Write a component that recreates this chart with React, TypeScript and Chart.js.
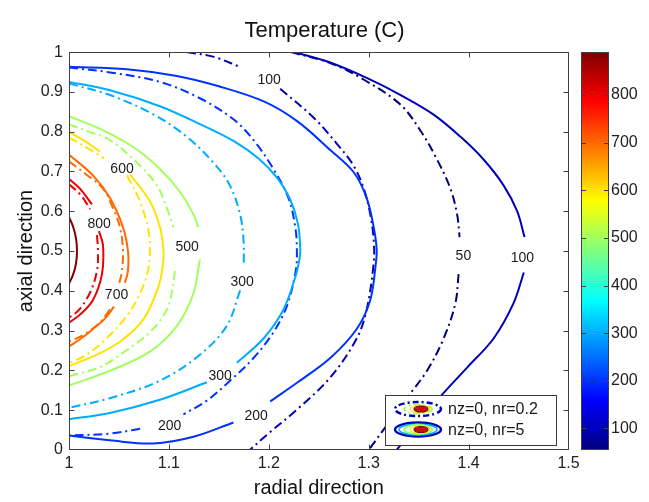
import { useEffect, useRef } from "react";
import { Chart, registerables } from "chart.js";

Chart.register(...registerables);

type Pt = [number, number] | null; // null breaks the line (room for a level label)

// Axis ticks
const xTicks = [1, 1.1, 1.2, 1.3, 1.4, 1.5];
const yTicks = [0, 0.1, 0.2, 0.3, 0.4, 0.5, 0.6, 0.7, 0.8, 0.9, 1];
const cbTicks = [100, 200, 300, 400, 500, 600, 700, 800];
const cMin = 55;
const cMax = 890;

// nz=0, nr=5 (solid isotherms)
const solid885: Pt[] = [[1.0, 0.585], [1.004, 0.562], [1.007, 0.532], [1.008, 0.5], [1.007, 0.468], [1.004, 0.44], [1.0, 0.418]];
const solid800: Pt[] = [[1.0, 0.681], [1.011, 0.657], [1.023, 0.617], null, [1.03, 0.55], [1.034, 0.515], [1.033, 0.442], [1.024, 0.377], [1.011, 0.34], [1.0, 0.32]];
const solid700: Pt[] = [[1.0, 0.742], [1.024, 0.69], [1.041, 0.633], [1.054, 0.56], [1.059, 0.5], [1.059, 0.45], [1.056, 0.42], null, [1.045, 0.36], [1.036, 0.33], [1.024, 0.304], [1.012, 0.28], [1.0, 0.26]];
const solid600: Pt[] = [[1.0, 0.799], [1.016, 0.776], [1.031, 0.75], null, [1.061, 0.693], [1.081, 0.625], [1.091, 0.56], [1.0945, 0.503], [1.094, 0.466], [1.0895, 0.41], [1.0745, 0.328], [1.051, 0.272], [1.024, 0.235], [1.0, 0.211]];
const solid500: Pt[] = [[1.0, 0.839], [1.031, 0.807], [1.064, 0.762], [1.091, 0.706], [1.111, 0.649], [1.1245, 0.592], [1.1295, 0.56], null, [1.131, 0.479], [1.1245, 0.393], [1.108, 0.312], [1.081, 0.247], [1.041, 0.199], [1.0, 0.162]];
const solid300: Pt[] = [[1.0, 0.925], [1.041, 0.904], [1.091, 0.864], [1.131, 0.819], [1.165, 0.776], [1.19, 0.732], [1.208, 0.685], [1.221, 0.632], [1.229, 0.57], [1.2315, 0.503], [1.23, 0.47], [1.2265, 0.434], [1.2147, 0.353], [1.1947, 0.28], [1.168, 0.219], null, [1.138, 0.17], [1.091, 0.126], [1.041, 0.093], [1.0, 0.077]];
const solid200: Pt[] = [[1.0, 0.963], [1.058, 0.957], [1.108, 0.94], [1.15, 0.914], [1.195, 0.876], [1.228, 0.827], [1.2615, 0.754], [1.285, 0.698], [1.298, 0.633], [1.305, 0.56], [1.308, 0.503], [1.307, 0.466], [1.3016, 0.377], [1.288, 0.304], [1.2615, 0.231], [1.23, 0.172], [1.2014, 0.122], null, [1.1646, 0.069], [1.1246, 0.033], [1.0845, 0.016], [1.041, 0.024], [1.0, 0.036]];
const solid100: Pt[] = [[1.225, 1.0], [1.26, 0.975], [1.298, 0.935], [1.332, 0.892], [1.365, 0.843], [1.392, 0.787], [1.415, 0.73], [1.435, 0.665], [1.4486, 0.6], [1.456, 0.535], null, [1.4553, 0.446], [1.445, 0.369], [1.425, 0.28], [1.3985, 0.207], [1.3717, 0.134], [1.35, 0.068], [1.328, 0.0]];

// nz=0, nr=0.2 (dash-dot isotherms)
const dash800: Pt[] = [[1.0, 0.668], [1.012, 0.64], [1.021, 0.605], null, [1.028, 0.54], [1.029, 0.5], [1.028, 0.45], [1.021, 0.395], [1.01, 0.352], [1.0, 0.332]];
const dash700: Pt[] = [[1.0, 0.725], [1.017, 0.693], [1.034, 0.657], [1.044, 0.608], [1.051, 0.56], [1.054, 0.503], [1.053, 0.45], [1.05, 0.415], null, [1.041, 0.353], [1.031, 0.32], [1.015, 0.29], [1.0, 0.272]];
const dash600: Pt[] = [[1.0, 0.785], [1.02, 0.757], [1.035, 0.733], null, [1.058, 0.69], [1.071, 0.625], [1.0795, 0.552], [1.081, 0.503], [1.079, 0.45], [1.071, 0.393], [1.058, 0.337], [1.034, 0.272], [1.016, 0.237], [1.0, 0.218]];
const dash500: Pt[] = [[1.0, 0.818], [1.02, 0.8], [1.041, 0.779], [1.068, 0.722], [1.088, 0.665], [1.098, 0.608], [1.1045, 0.56], null, [1.106, 0.45], [1.104, 0.41], [1.098, 0.353], [1.081, 0.296], [1.051, 0.239], [1.031, 0.208], [1.0, 0.185]];
const dash300: Pt[] = [[1.0, 0.921], [1.041, 0.892], [1.0845, 0.8435], [1.118, 0.787], [1.1446, 0.722], [1.161, 0.665], [1.1713, 0.592], [1.1747, 0.527], [1.175, 0.47], null, [1.1713, 0.401], [1.158, 0.312], [1.131, 0.239], [1.091, 0.174], [1.041, 0.13], [1.0, 0.106]];
const dash200: Pt[] = [[1.0, 0.961], [1.041, 0.949], [1.091, 0.925], [1.131, 0.884], [1.1646, 0.831], [1.1847, 0.779], [1.2047, 0.706], [1.2197, 0.633], [1.2265, 0.56], [1.2281, 0.503], [1.227, 0.45], [1.218, 0.361], [1.2047, 0.296], [1.1847, 0.231], [1.163, 0.178], [1.138, 0.124], [1.1145, 0.089], null, [1.0711, 0.053], [1.041, 0.041], [1.0, 0.036]];
const dash100: Pt[] = [[1.118, 1.0], [1.145, 0.988], [1.172, 0.962], null, [1.2114, 0.908], [1.245, 0.835], [1.268, 0.77], [1.285, 0.714], [1.295, 0.657], [1.3016, 0.592], [1.305, 0.527], [1.305, 0.47], [1.298, 0.353], [1.288, 0.28], [1.2615, 0.182], [1.228, 0.101], [1.2014, 0.045], [1.181, 0.0]];
const dash50: Pt[] = [[1.222, 1.0], [1.262, 0.972], [1.297, 0.928], [1.3317, 0.868], [1.3517, 0.803], [1.3684, 0.73], [1.3818, 0.657], [1.3885, 0.592], [1.391, 0.535], null, [1.39, 0.442], [1.3868, 0.369], [1.375, 0.28], [1.3584, 0.199], [1.3417, 0.142], [1.32, 0.068], [1.3, 0.0]];

// In-line level labels
const labelText = ["100", "100", "50", "300", "300", "200", "200", "500", "600", "700", "800"];
const labelX = [1.2004, 1.4539, 1.3948, 1.1733, 1.1513, 1.1874, 1.1007, 1.1182, 1.0531, 1.0476, 1.0301];
const labelY = [0.929, 0.483, 0.487, 0.4226, 0.1866, 0.0844, 0.06, 0.51, 0.705, 0.3886, 0.5686];

const legendLabels = ["nz=0, nr=0.2", "nz=0, nr=5"];

const FONT = '"Liberation Sans", Arial, Helvetica, sans-serif';
const DASH_DOT = [9, 4, 2, 4];

function jet(t: number): string {
  const c = (v: number) => Math.round(255 * Math.max(0, Math.min(1, v)));
  const r = Math.min(4 * t - 1.5, -4 * t + 4.5);
  const g = Math.min(4 * t - 0.5, -4 * t + 3.5);
  const b = Math.min(4 * t + 0.5, -4 * t + 2.5);
  return `rgb(${c(r)},${c(g)},${c(b)})`;
}
const levelColor = (v: number) => jet((v - cMin) / (cMax - cMin));

function toData(pts: Pt[]) {
  let lastX = 1;
  return pts.map((p) => {
    if (!p) return { x: lastX, y: null as unknown as number };
    lastX = p[0];
    return { x: p[0], y: p[1] };
  });
}

const contours: { level: number; dashed: boolean; pts: Pt[] }[] = [
  { level: 885, dashed: false, pts: solid885 },
  { level: 800, dashed: false, pts: solid800 },
  { level: 700, dashed: false, pts: solid700 },
  { level: 600, dashed: false, pts: solid600 },
  { level: 500, dashed: false, pts: solid500 },
  { level: 300, dashed: false, pts: solid300 },
  { level: 200, dashed: false, pts: solid200 },
  { level: 100, dashed: false, pts: solid100 },
  { level: 800, dashed: true, pts: dash800 },
  { level: 700, dashed: true, pts: dash700 },
  { level: 600, dashed: true, pts: dash600 },
  { level: 500, dashed: true, pts: dash500 },
  { level: 300, dashed: true, pts: dash300 },
  { level: 200, dashed: true, pts: dash200 },
  { level: 100, dashed: true, pts: dash100 },
  { level: 50, dashed: true, pts: dash50 },
];

function ellipse(ctx: CanvasRenderingContext2D, cx: number, cy: number, rx: number, ry: number) {
  ctx.beginPath();
  ctx.ellipse(cx, cy, rx, ry, 0, 0, Math.PI * 2);
}

function drawLegendIcon(ctx: CanvasRenderingContext2D, cx: number, cy: number, dashed: boolean) {
  ctx.save();
  ctx.setLineDash(dashed ? [6, 3, 2, 3] : []);
  ctx.lineWidth = 2.4;
  ctx.strokeStyle = levelColor(100);
  ellipse(ctx, cx, cy, 23, 7);
  ctx.stroke();
  if (!dashed) {
    ctx.lineWidth = 1.6;
    ctx.strokeStyle = levelColor(300);
    ellipse(ctx, cx, cy, 19, 5.5);
    ctx.stroke();
  }
  ctx.lineWidth = 1.8;
  ctx.strokeStyle = levelColor(500);
  ellipse(ctx, cx, cy, 14, 4.5);
  ctx.stroke();
  ctx.setLineDash([]);
  ctx.lineWidth = 1.2;
  ctx.strokeStyle = levelColor(600);
  ellipse(ctx, cx + 2, cy, 10, 3.5);
  ctx.stroke();
  ctx.fillStyle = "#c81010";
  ctx.strokeStyle = "#7a0000";
  ellipse(ctx, cx + 3, cy, 7, 3);
  ctx.fill();
  ctx.stroke();
  ctx.restore();
}

const overlay = {
  id: "overlay",
  afterDatasetsDraw(chart: Chart) {
    const { ctx, chartArea: a } = chart;
    const xs = chart.scales.x;
    const ys = chart.scales.y;
    const cb = chart.scales.cb;
    ctx.save();

    // level labels
    ctx.font = `14px ${FONT}`;
    ctx.fillStyle = "#1a1a1a";
    ctx.textAlign = "center";
    ctx.textBaseline = "middle";
    labelText.forEach((t, i) => {
      ctx.fillText(t, xs.getPixelForValue(labelX[i]), ys.getPixelForValue(labelY[i]));
    });

    // legend
    const lw = 172;
    const lh = 51;
    const lx = Math.round(a.right - 12 - lw);
    const ly = Math.round(a.bottom - 4 - lh);
    ctx.fillStyle = "#fff";
    ctx.fillRect(lx, ly, lw, lh);
    ctx.strokeStyle = "#3a3a3a";
    ctx.lineWidth = 1;
    ctx.strokeRect(lx + 0.5, ly + 0.5, lw - 1, lh - 1);
    legendLabels.forEach((txt, i) => {
      const cy = ly + 14 + i * 20.5;
      drawLegendIcon(ctx, lx + 33, cy, i === 0);
      ctx.fillStyle = "#1a1a1a";
      ctx.font = `16px ${FONT}`;
      ctx.textAlign = "left";
      ctx.textBaseline = "middle";
      ctx.fillText(txt, lx + 63, cy + 1);
    });

    // axes box with inward ticks
    ctx.strokeStyle = "#404040";
    ctx.lineWidth = 1;
    const L = Math.round(a.left) + 0.5;
    const R = Math.round(a.right) - 0.5;
    const T = Math.round(a.top) + 0.5;
    const B = Math.round(a.bottom) - 0.5;
    ctx.strokeRect(L, T, R - L, B - T);
    ctx.beginPath();
    xTicks.forEach((v) => {
      if (v <= xs.min || v >= xs.max) return;
      const px = Math.round(xs.getPixelForValue(v)) + 0.5;
      ctx.moveTo(px, B);
      ctx.lineTo(px, B - 5);
      ctx.moveTo(px, T);
      ctx.lineTo(px, T + 5);
    });
    yTicks.forEach((v) => {
      if (v <= ys.min || v >= ys.max) return;
      const py = Math.round(ys.getPixelForValue(v)) + 0.5;
      ctx.moveTo(L, py);
      ctx.lineTo(L + 5, py);
      ctx.moveTo(R, py);
      ctx.lineTo(R - 5, py);
    });
    ctx.stroke();

    // colour bar
    const top = cb.getPixelForValue(cMax);
    const bot = cb.getPixelForValue(cMin);
    const cl = Math.round(a.right + 12.5);
    const cw = 28;
    const grad = ctx.createLinearGradient(0, bot, 0, top);
    for (let i = 0; i <= 64; i++) grad.addColorStop(i / 64, jet(i / 64));
    ctx.fillStyle = grad;
    ctx.fillRect(cl, top, cw, bot - top);
    ctx.strokeStyle = "#404040";
    ctx.strokeRect(cl + 0.5, Math.round(top) + 0.5, cw - 1, Math.round(bot - top) - 1);
    ctx.beginPath();
    cbTicks.forEach((v) => {
      const py = Math.round(cb.getPixelForValue(v)) + 0.5;
      ctx.moveTo(cl, py);
      ctx.lineTo(cl + 5, py);
      ctx.moveTo(cl + cw, py);
      ctx.lineTo(cl + cw - 5, py);
    });
    ctx.stroke();
    ctx.restore();
  },
};

export default function App() {
  const ref = useRef<HTMLCanvasElement>(null);

  useEffect(() => {
    if (!ref.current) return;
    Chart.defaults.font.family = FONT;
    const datasets = contours.map((c) => ({
      data: toData(c.pts),
      borderColor: levelColor(c.level),
      borderWidth: 2,
      borderDash: c.dashed ? DASH_DOT : [],
      pointRadius: 0,
      tension: 0.35,
      spanGaps: false,
      fill: false,
      clip: 0,
    }));

    const chart = new Chart(ref.current, {
      type: "line",
      data: { datasets },
      plugins: [overlay],
      options: {
        animation: false,
        responsive: false,
        devicePixelRatio: 1,
        layout: { padding: 0 },
        plugins: {
          legend: { display: false },
          tooltip: { enabled: false },
          title: {
            display: true,
            text: "Temperature (C)",
            color: "#111",
            font: { size: 22, weight: "normal", family: FONT },
            padding: { top: 6.5, bottom: 7.8 },
          },
        },
        scales: {
          x: {
            type: "linear",
            min: 1,
            max: 1.5,
            afterBuildTicks: (s: any) => {
              s.ticks = xTicks.map((v) => ({ value: v }));
            },
            afterFit: (s: any) => {
              s.height = 50.3;
            },
            grid: { display: false, drawTicks: false },
            border: { display: false },
            ticks: {
              padding: 4,
              color: "#222",
              font: { size: 16 },
              maxRotation: 0,
              autoSkip: false,
              callback: (v: any) => String(v),
            },
            title: {
              display: true,
              text: "radial direction",
              color: "#111",
              font: { size: 20 },
              padding: { top: 0, bottom: 0 },
            },
          },
          y: {
            type: "linear",
            min: 0,
            max: 1,
            afterBuildTicks: (s: any) => {
              s.ticks = yTicks.map((v) => ({ value: v }));
            },
            afterFit: (s: any) => {
              s.width = 69;
            },
            grid: { display: false, drawTicks: false },
            border: { display: false },
            ticks: {
              padding: 6,
              color: "#222",
              font: { size: 16 },
              autoSkip: false,
              callback: (v: any) => String(v),
            },
            title: {
              display: true,
              text: "axial direction",
              color: "#111",
              font: { size: 20 },
              padding: { top: 14, bottom: 0 },
            },
          },
          cb: {
            type: "linear",
            axis: "y",
            position: "right",
            min: cMin,
            max: cMax,
            afterBuildTicks: (s: any) => {
              s.ticks = cbTicks.map((v) => ({ value: v }));
            },
            afterFit: (s: any) => {
              s.width = 80.5;
            },
            grid: { display: false, drawTicks: false },
            border: { display: false },
            ticks: {
              padding: 42.5,
              color: "#222",
              font: { size: 16 },
              autoSkip: false,
              callback: (v: any) => String(v),
            },
          },
        },
      } as any,
    });
    return () => chart.destroy();
  }, []);

  return (
    <div style={{ position: "absolute", left: 0, top: 0, width: 649, height: 502, background: "#fff" }}>
      <canvas ref={ref} width={649} height={502} style={{ display: "block", width: 649, height: 502 }} />
    </div>
  );
}
